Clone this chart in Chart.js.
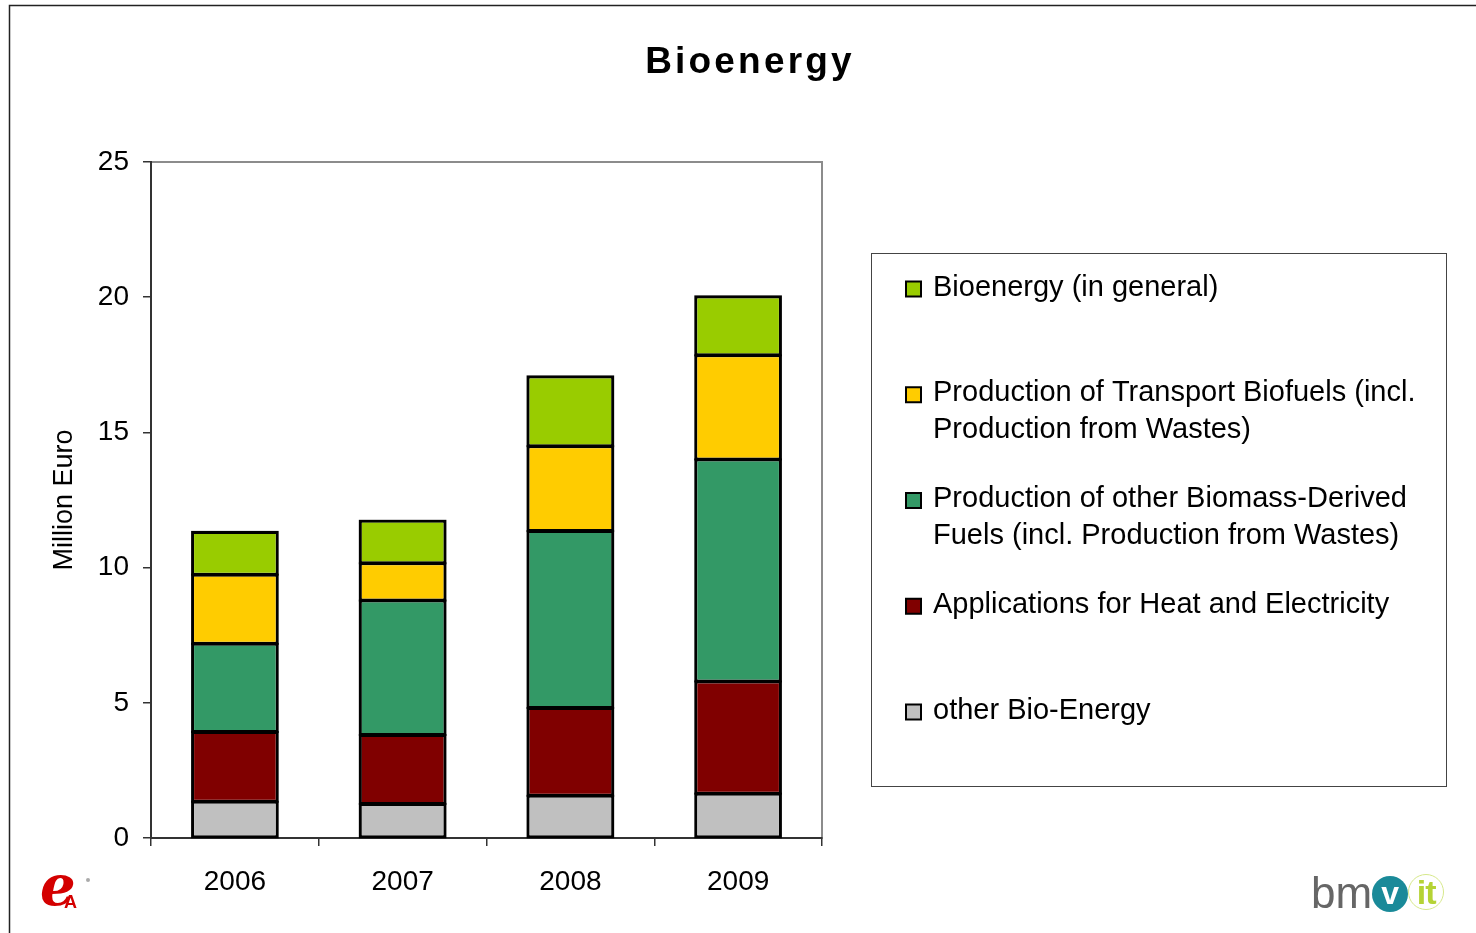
<!DOCTYPE html>
<html>
<head>
<meta charset="utf-8">
<script src="https://cdn.jsdelivr.net/npm/chart.js@4/dist/chart.umd.min.js"></script>
<style>
  html, body { margin: 0; padding: 0; background: #fff; }
  #wrap { position: relative; width: 1476px; height: 933px; overflow: hidden; }
  #logoE { position: absolute; left: 40px; top: 858px; width: 60px; height: 60px; color: #d40000; font: italic bold 56px "DejaVu Serif", serif; line-height: 54px; }
  #logoE span { font: bold 18px "Liberation Sans", sans-serif; position: absolute; left: 24px; top: 34px; }
  #logoE i { position: absolute; left: 46px; top: 20px; width: 4px; height: 4px; border-radius: 2px; background: #aaa; }
  #bmvit { position: absolute; left: 1311px; top: 868px; height: 50px; font: 44px "Liberation Sans", sans-serif; color: #666; white-space: nowrap; }
  #bmvit .v { display: inline-block; width: 36px; height: 36px; border-radius: 18px; background: #1a8a99; color: #fff; text-align: center; font: bold 32px/34px "Liberation Sans", sans-serif; vertical-align: 4px; }
  #bmvit .it { display: inline-block; width: 34px; height: 34px; border-radius: 18px; border: 1px solid #d6e88a; color: #b5d334; text-align: center; font: bold 34px/34px "Liberation Sans", sans-serif; vertical-align: 4px; letter-spacing: -1px; }
</style>
</head>
<body>
<div id="wrap">
  <canvas id="c" width="1476" height="933"></canvas>
  <div id="logoE">e<span>A</span><i></i></div>
  <div id="bmvit">bm<span class="v">v</span><span class="it">it</span></div>
</div>
<script>
// data
const years = ["2006", "2007", "2008", "2009"];

const otherBio = [1.34, 1.26, 1.56, 1.64];
const heatElec = [2.58, 2.55, 3.25, 4.15];
const otherFuels = [3.26, 4.97, 6.54, 8.21];
const transportFuels = [2.56, 1.38, 3.14, 3.85];
const bioGeneral = [1.58, 1.57, 2.58, 2.18];

// legend text, one entry per line
const nameOtherBio = ["other Bio-Energy"];
const nameHeatElec = ["Applications for Heat and Electricity"];
const nameOtherFuels = ["Production of other Biomass-Derived", "Fuels (incl. Production from Wastes)"];
const nameTransport = ["Production of Transport Biofuels (incl.", "Production from Wastes)"];
const nameGeneral = ["Bioenergy (in general)"];

const yTicks = [0, 5, 10, 15, 20, 25];

const FONT = '"Liberation Sans", Arial, sans-serif';

function ds(lines, values, color) {
  return {
    label: lines.join(" "),
    lines: lines,
    data: values,
    backgroundColor: color,
    borderColor: "#000",
    borderWidth: 2,
    borderSkipped: false,
    barPercentage: 0.51,
    categoryPercentage: 1,
  };
}

// frame, title and legend box drawn around the chart
const decor = {
  id: "decor",
  beforeDraw(chart) {
    const { ctx, chartArea: a } = chart;
    ctx.save();
    ctx.strokeStyle = "#222";
    ctx.lineWidth = 1.5;
    ctx.beginPath();
    ctx.moveTo(9.5, 933);
    ctx.lineTo(9.5, 5.5);
    ctx.lineTo(1476, 5.5);
    ctx.stroke();
    // plot area outline
    ctx.strokeStyle = "#8c8c8c";
    ctx.lineWidth = 2;
    ctx.strokeRect(a.left, a.top, a.right - a.left, a.bottom - a.top);
    ctx.restore();
  },
  afterDatasetsDraw(chart) {
    // extra outline so the segment edges read as heavy as in the original
    const { ctx } = chart;
    ctx.save();
    ctx.strokeStyle = "#000";
    ctx.lineWidth = 2;
    chart.data.datasets.forEach((d, i) => {
      chart.getDatasetMeta(i).data.forEach(bar => {
        const { x, y, base, width } = bar.getProps(["x", "y", "base", "width"], true);
        ctx.strokeRect(x - width / 2, y, width, base - y);
      });
    });
    ctx.restore();
  },
  afterDraw(chart) {
    const { ctx } = chart;
    ctx.save();
    // title
    ctx.fillStyle = "#000";
    ctx.font = "bold 37px " + FONT;
    ctx.letterSpacing = "3.2px";
    ctx.textAlign = "center";
    ctx.textBaseline = "middle";
    ctx.fillText("Bioenergy", 750, 63);

    // legend
    const box = { x: 871, y: 253, w: 575, h: 533 };
    ctx.strokeStyle = "#444";
    ctx.lineWidth = 1;
    ctx.strokeRect(box.x + 0.5, box.y + 0.5, box.w, box.h);
    ctx.font = "29px " + FONT;
    ctx.letterSpacing = "0px";
    ctx.textAlign = "left";
    const items = chart.data.datasets.slice().reverse();
    const step = 105.75;
    items.forEach((d, i) => {
      const y0 = 287.5 + i * step;
      ctx.fillStyle = d.backgroundColor;
      ctx.fillRect(906, y0 - 6, 15, 15);
      ctx.strokeStyle = "#000";
      ctx.lineWidth = 2;
      ctx.strokeRect(906, y0 - 6, 15, 15);
      ctx.fillStyle = "#000";
      d.lines.forEach((t, j) => ctx.fillText(t, 933, y0 + j * 37));
    });
    ctx.restore();
  },
};

new Chart(document.getElementById("c"), {
  type: "bar",
  data: {
    labels: years,
    datasets: [
      ds(nameOtherBio, otherBio, "#C0C0C0"),
      ds(nameHeatElec, heatElec, "#800000"),
      ds(nameOtherFuels, otherFuels, "#339966"),
      ds(nameTransport, transportFuels, "#FFCC00"),
      ds(nameGeneral, bioGeneral, "#99CC00"),
    ],
  },
  options: {
    responsive: false,
    animation: false,
    layout: { padding: { top: 162, right: 654, left: 0, bottom: 0 } },
    plugins: { legend: { display: false }, tooltip: { enabled: false } },
    scales: {
      x: {
        stacked: true,
        afterFit(s) { s.height = 95; },
        grid: { drawOnChartArea: false, offset: true, tickLength: 8, color: "#333", lineWidth: 1.5 },
        border: { color: "#333", width: 2 },
        ticks: { color: "#000", font: { family: FONT, size: 28 }, padding: 19 },
      },
      y: {
        stacked: true,
        min: 0,
        max: 25,
        afterFit(s) { s.width = 151; },
        afterBuildTicks(s) { s.ticks = yTicks.map(v => ({ value: v })); },
        grid: { drawOnChartArea: false, tickLength: 8, color: "#333", lineWidth: 1.5 },
        border: { color: "#333", width: 2 },
        ticks: { color: "#000", font: { family: FONT, size: 28 }, padding: 14 },
        title: {
          display: true,
          text: "Million Euro",
          color: "#000",
          font: { family: FONT, size: 27 },
          padding: { top: 48, bottom: 0 },
        },
      },
    },
  },
  plugins: [decor],
});
</script>
</body>
</html>
